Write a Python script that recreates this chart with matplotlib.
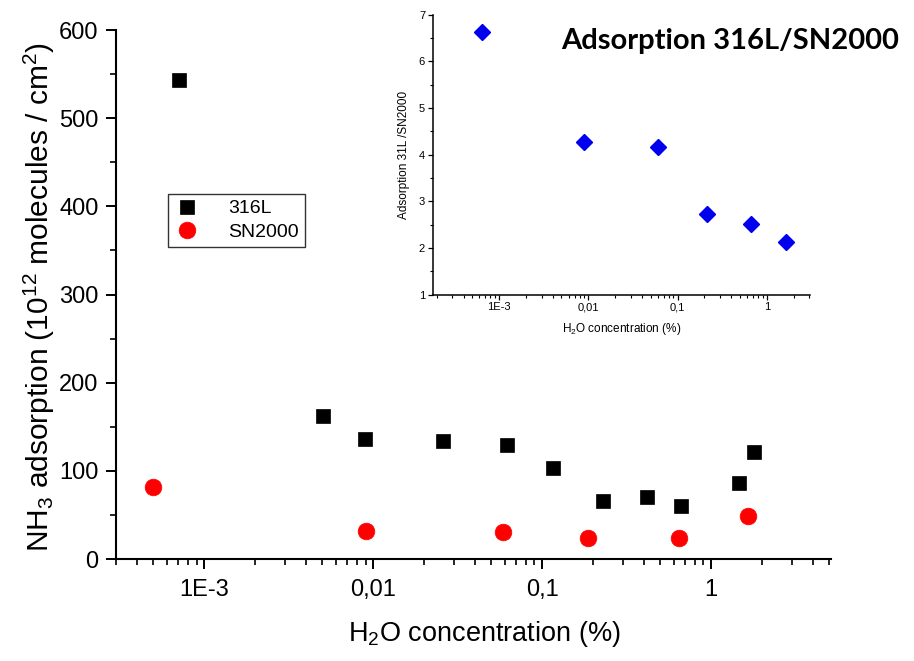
import matplotlib
matplotlib.use("Agg")
import matplotlib.pyplot as plt
from matplotlib.ticker import FixedLocator, FixedFormatter, LogLocator, MultipleLocator, NullFormatter

plt.rcParams['font.family'] = ['Liberation Sans', 'DejaVu Sans']
plt.rcParams['mathtext.fontset'] = 'custom'
plt.rcParams['mathtext.rm'] = 'Liberation Sans'
plt.rcParams['mathtext.it'] = 'Liberation Sans'

# 316L (black squares)
x_316 = [7.05e-4, 0.00501, 0.00893, 0.0260, 0.0618, 0.1156, 0.230, 0.417, 0.660, 1.456, 1.79]
y_316 = [543, 162.5, 136.4, 134.2, 129.3, 102.9, 65.4, 70.7, 60.5, 85.9, 121.7]

# SN2000 (red circles)
x_sn = [5.0e-4, 0.00906, 0.0583, 0.187, 0.648, 1.65]
y_sn = [82.0, 31.8, 31.0, 24.2, 24.2, 48.8]

# ratio 316L / SN2000 (inset)
x_ratio = [6.4e-4, 0.00895, 0.0608, 0.214, 0.66, 1.66]
y_ratio = [6.63, 4.28, 4.16, 2.72, 2.51, 2.12]

dec_ticks = [1e-3, 1e-2, 1e-1, 1]
dec_labels = ['1E-3', '0,01', '0,1', '1']

fig = plt.figure(figsize=(9.14, 6.61), dpi=100)

# ---- main plot ----
ax = fig.add_axes([0.1269, 0.1543, 0.7819, 0.8003])
ax.plot(x_316, y_316, 's', color='black', ms=10.5, mec='black', mew=0.5, label='316L', linestyle='none')
ax.plot(x_sn, y_sn, 'o', color='#ff0000', ms=12, mec='#ff0000', mew=0.5, label='SN2000', linestyle='none')
ax.set_xscale('log')
ax.set_xlim(3e-4, 5.1)
ax.set_ylim(0, 600)
for s in ['top', 'right']:
    ax.spines[s].set_visible(False)
for s in ['left', 'bottom']:
    ax.spines[s].set_linewidth(1.5)
ax.xaxis.set_major_locator(FixedLocator(dec_ticks))
ax.xaxis.set_major_formatter(FixedFormatter(dec_labels))
ax.xaxis.set_minor_locator(LogLocator(base=10, subs=range(2, 10)))
ax.xaxis.set_minor_formatter(NullFormatter())
ax.yaxis.set_major_locator(MultipleLocator(100))
ax.yaxis.set_minor_locator(MultipleLocator(50))
ax.tick_params(which='major', direction='out', length=7.5, width=1.4, labelsize=17, pad=5)
ax.tick_params(which='minor', direction='out', length=4.2, width=1.2)
ax.tick_params(axis='x', which='major', pad=7)

ax.set_ylabel(r'NH$_3$ adsorption (10$^{12}$ molecules / cm$^2$)', fontsize=21.5)
ax.yaxis.set_label_coords(-0.083, 0.495)
ax.set_xlabel(r'H$_2$O concentration (%)', fontsize=19.5)
ax.xaxis.set_label_coords(0.515, -0.113)

leg = ax.legend(loc='upper left', bbox_to_anchor=(0.073, 0.69), fontsize=14,
                frameon=True, fancybox=False, edgecolor='black', handletextpad=1.5,
                borderpad=0.3, labelspacing=0.3, handlelength=1.3, borderaxespad=0)
leg.get_frame().set_linewidth(1.0)

# ---- inset ----
ins = fig.add_axes([0.4734, 0.5542, 0.4128, 0.4236])
ins.plot(x_ratio, y_ratio, 'D', color='#0000ee', ms=8, mec='#0000ee', linestyle='none')
ins.set_xscale('log')
ins.set_xlim(1.8e-4, 3.05)
ins.set_ylim(1, 7)
for s in ['top', 'right']:
    ins.spines[s].set_visible(False)
for s in ['left', 'bottom']:
    ins.spines[s].set_linewidth(1.1)
ins.xaxis.set_major_locator(FixedLocator(dec_ticks))
ins.xaxis.set_major_formatter(FixedFormatter(dec_labels))
ins.xaxis.set_minor_locator(LogLocator(base=10, subs=range(2, 10)))
ins.xaxis.set_minor_formatter(NullFormatter())
ins.yaxis.set_major_locator(MultipleLocator(1))
ins.yaxis.set_minor_locator(MultipleLocator(0.5))
ins.tick_params(which='major', direction='out', length=3.5, width=0.9, labelsize=8, pad=2)
ins.tick_params(which='minor', direction='out', length=2, width=0.8)
ins.set_ylabel('Adsorption 31L /SN2000', fontsize=8.5, labelpad=6)
ins.set_xlabel(r'H$_2$O concentration (%)', fontsize=8.5, labelpad=6)
ins.patch.set_alpha(0)

fig.text(0.984, 0.938, 'Adsorption 316L/SN2000', fontsize=21, fontweight='bold',
         family=['Lato', 'DejaVu Sans'], ha='right', va='center')

fig.savefig('out.png', dpi=100)
